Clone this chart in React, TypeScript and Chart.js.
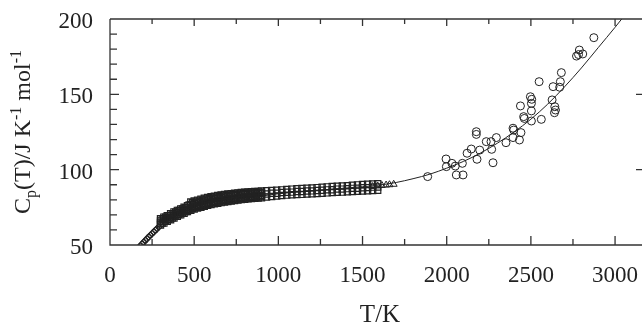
import React, { useEffect, useRef } from "react";
import { Chart, registerables } from "chart.js";

Chart.register(...registerables);

// ---- axis ticks ----
const xMajorTicks = [0, 500, 1000, 1500, 2000, 2500, 3000];
const xMinorTicks = [250, 750, 1250, 1750, 2250, 2750];
const yMajorTicks = [50, 100, 150, 200];
const yMinorTicks = [60, 70, 80, 90, 110, 120, 130, 140, 160, 170, 180, 190];

// ---- low-temperature diamonds ----
const diamondT = [180, 190, 200, 210, 220, 230, 240, 250, 260, 270, 280, 290];
const diamondY = [49.5, 50.6, 51.8, 53, 54.2, 55.3, 56.5, 57.6, 58.7, 59.8, 60.9, 62];

// ---- dense square data 300-900 K ----
const denseT = [300, 320, 340, 360, 380, 400, 420, 440, 460, 480, 500, 520, 540, 560, 580, 600, 620, 640, 660, 680, 700, 720, 740, 760, 780, 800, 820, 840, 860, 880, 900];
const denseY1 = [63.2, 64.5, 65.8, 66.8, 67.9, 69, 70, 71, 72.2, 73.1, 73.8, 74.5, 75.1, 75.7, 76.3, 76.9, 77.3, 77.7, 78.1, 78.5, 78.9, 79.2, 79.5, 79.8, 80.1, 80.4, 80.6, 80.8, 81, 81.2, 81.4];
const denseY2 = [64.6, 65.8, 67, 68.2, 69.3, 70.3, 71.4, 72.3, 73.4, 74.9, 75.6, 76.3, 76.9, 77.5, 78.1, 78.6, 79, 79.4, 79.8, 80.2, 80.5, 80.8, 81.1, 81.4, 81.7, 81.9, 82.1, 82.3, 82.5, 82.7, 82.9];
const denseY3 = [66, 67.2, 68.3, 69.5, 70.6, 71.7, 72.7, 73.7, 74.7, 76.7, 77.4, 78, 78.6, 79.2, 79.8, 80.3, 80.7, 81.1, 81.5, 81.8, 82.1, 82.5, 82.8, 83, 83.3, 83.5, 83.7, 83.8, 84, 84.2, 84.3];
const denseY4 = [67.5, 68.5, 69.5, 70.8, 72, 73, 74, 75, 76, 78.5, 79.2, 79.8, 80.4, 81, 81.5, 82, 82.4, 82.8, 83.2, 83.5, 83.8, 84.1, 84.4, 84.6, 84.8, 85, 85.2, 85.3, 85.5, 85.6, 85.8];

const denseT2 = [310, 330, 350, 370, 390, 410, 430, 450, 470, 490, 510, 530, 550, 570, 590, 610, 630, 650, 670, 690, 710, 730, 750, 770, 790, 810, 830, 850, 870, 890];
const denseY5 = [64.5, 65.8, 67, 68, 69.1, 70.2, 71.2, 72.2, 73.4, 74.3, 75, 75.7, 76.3, 76.9, 77.5, 77.9, 78.4, 78.7, 79.1, 79.5, 79.8, 80.1, 80.5, 80.7, 81, 81.2, 81.5, 81.6, 81.8, 82.1];
const denseY6 = [67.3, 68.4, 69.5, 70.7, 71.8, 72.9, 73.9, 74.8, 76.5, 78, 78.6, 79.2, 79.8, 80.4, 80.9, 81.3, 81.8, 82.1, 82.5, 82.8, 83.1, 83.4, 83.7, 83.9, 84.2, 84.3, 84.5, 84.6, 84.8, 85];

// ---- square data 930-1590 K ----
const highT = [930, 960, 990, 1020, 1050, 1080, 1110, 1140, 1170, 1200, 1230, 1260, 1290, 1320, 1350, 1380, 1410, 1440, 1470, 1500, 1530, 1560, 1590];
const highY1 = [81.8, 82.2, 82.5, 82.9, 83.1, 83.3, 83.5, 83.6, 83.8, 84, 84.2, 84.4, 84.6, 84.8, 85, 85.1, 85.3, 85.5, 85.6, 85.8, 86, 86.1, 86.3];
const highY2 = [83.9, 84.3, 84.4, 84.8, 85, 85.1, 85.5, 85.5, 85.8, 85.9, 86.2, 86.3, 86.6, 86.7, 87.1, 87.1, 87.4, 87.6, 87.7, 88, 88.1, 88.4, 88.5];
const highY3 = [86, 86.2, 86.4, 86.6, 86.9, 87.1, 87.3, 87.5, 87.7, 87.9, 88.1, 88.4, 88.6, 88.8, 89, 89.2, 89.4, 89.7, 89.9, 90.1, 90.3, 90.5, 90.7];

// ---- triangles ----
const triT = [1560, 1590, 1615, 1640, 1660, 1685];
const triY = [88.8, 89.2, 89.5, 89.8, 90, 90.3];

// ---- high-temperature circles ----
const circT = [1887, 1996, 1998, 2031, 2051, 2057, 2097, 2093, 2121, 2146, 2176, 2176, 2180, 2196, 2235, 2263, 2267, 2275, 2295, 2352, 2394, 2398, 2394, 2432, 2441, 2438, 2457, 2461, 2497, 2505, 2503, 2503, 2503, 2549, 2562, 2626, 2632, 2642, 2646, 2640, 2671, 2675, 2681, 2771, 2783, 2788, 2808, 2874];
const circY = [95.4, 107.1, 102, 104.2, 102.4, 96.5, 96.5, 104.2, 110.9, 113.7, 125.2, 123.4, 106.9, 113, 118.6, 118.6, 113.5, 104.6, 121.3, 117.9, 127.5, 126.3, 121.3, 119.7, 124.6, 142.3, 135.2, 134, 148.4, 146.7, 144, 139, 132.3, 158.4, 133.4, 146.3, 155.1, 141.8, 139.6, 137.8, 154.7, 158.4, 164.4, 175.4, 176.4, 179.4, 176.8, 187.6];

// ---- fitted curve ----
const fitT = [200, 300, 400, 500, 600, 700, 800, 900, 1000, 1200, 1400, 1500, 1600, 1700, 1800, 1900, 2000, 2100, 2200, 2300, 2400, 2500, 2600, 2700, 2800, 2900, 3000, 3100];
const fitY = [50.5, 61, 68, 73, 76.5, 79, 81, 82.5, 84, 86, 87.8, 88.7, 89.8, 91.5, 94, 97, 101, 105.5, 111, 117.5, 125, 133.5, 143.5, 155, 167.5, 181, 194.5, 208.5];

const pts = (xs: number[], ys: number[]) => xs.map((x, i) => ({ x, y: ys[i] }));

const INK = "#222";
const SERIF = "'Liberation Serif', 'Times New Roman', serif";

const framePlugin = {
  id: "frame",
  afterDraw(chart: any) {
    const { ctx, chartArea: a, scales } = chart;
    const xs = scales.x;
    const ys = scales.y;
    ctx.save();
    ctx.strokeStyle = "#333";
    ctx.lineWidth = 1.3;
    ctx.beginPath();
    ctx.moveTo(a.left, a.top);
    ctx.lineTo(a.right, a.top);
    ctx.moveTo(a.left, a.top);
    ctx.lineTo(a.left, a.bottom);
    ctx.lineTo(a.right, a.bottom);
    xMajorTicks.forEach((v) => {
      const px = xs.getPixelForValue(v);
      ctx.moveTo(px, a.bottom);
      ctx.lineTo(px, a.bottom - 9);
      ctx.moveTo(px, a.top);
      ctx.lineTo(px, a.top + 7);
    });
    xMinorTicks.forEach((v) => {
      const px = xs.getPixelForValue(v);
      ctx.moveTo(px, a.bottom);
      ctx.lineTo(px, a.bottom - 6);
      ctx.moveTo(px, a.top);
      ctx.lineTo(px, a.top + 5);
    });
    yMajorTicks.forEach((v) => {
      const py = ys.getPixelForValue(v);
      ctx.moveTo(a.left, py);
      ctx.lineTo(a.left + 9, py);
      ctx.moveTo(a.right, py);
      ctx.lineTo(a.right - 6, py);
    });
    yMinorTicks.forEach((v) => {
      const py = ys.getPixelForValue(v);
      ctx.moveTo(a.left, py);
      ctx.lineTo(a.left + 7, py);
    });
    ctx.stroke();

    // x title
    ctx.fillStyle = INK;
    ctx.font = `25px ${SERIF}`;
    ctx.textAlign = "center";
    ctx.textBaseline = "alphabetic";
    ctx.fillText("T/K", 380, 322);

    // y title with subscript / superscripts
    const segs = [
      { t: "C", k: "n" },
      { t: "p", k: "sub" },
      { t: "(T)/J K", k: "n" },
      { t: "-1", k: "sup" },
      { t: " mol", k: "n" },
      { t: "-1", k: "sup" },
    ];
    const mainF = `24px ${SERIF}`;
    const smallF = `16px ${SERIF}`;
    let total = 0;
    segs.forEach((s) => {
      ctx.font = s.k === "n" ? mainF : smallF;
      total += ctx.measureText(s.t).width;
    });
    ctx.translate(30, (a.top + a.bottom) / 2);
    ctx.rotate(-Math.PI / 2);
    ctx.textAlign = "left";
    let cx = -total / 2;
    segs.forEach((s) => {
      ctx.font = s.k === "n" ? mainF : smallF;
      const dy = s.k === "sub" ? 6 : s.k === "sup" ? -9 : 0;
      ctx.fillText(s.t, cx, dy);
      cx += ctx.measureText(s.t).width;
    });
    ctx.restore();
  },
};

export default function App() {
  const ref = useRef<HTMLCanvasElement | null>(null);
  useEffect(() => {
    if (!ref.current) return;
    const sq = {
      type: "scatter" as const,
      pointStyle: "rect",
      pointRadius: 4.4,
      pointBorderWidth: 1.2,
      pointBorderColor: INK,
      pointBackgroundColor: "rgba(0,0,0,0)",
      showLine: false,
    };
    const chart = new Chart(ref.current, {
      type: "scatter",
      data: {
        datasets: [
          {
            type: "line",
            data: pts(fitT, fitY),
            borderColor: INK,
            borderWidth: 1,
            pointRadius: 0,
            cubicInterpolationMode: "monotone",
            fill: false,
          } as any,
          {
            ...sq,
            data: pts(diamondT, diamondY),
            pointStyle: "rectRot",
            pointRadius: 3.2,
          },
          { ...sq, data: pts(denseT, denseY1) },
          { ...sq, data: pts(denseT, denseY2) },
          { ...sq, data: pts(denseT, denseY3) },
          { ...sq, data: pts(denseT, denseY4) },
          { ...sq, data: pts(denseT2, denseY5) },
          { ...sq, data: pts(denseT2, denseY6) },
          { ...sq, data: pts(highT, highY1) },
          { ...sq, data: pts(highT, highY2) },
          { ...sq, data: pts(highT, highY3) },
          {
            ...sq,
            data: pts(triT, triY),
            pointStyle: "triangle",
            pointRadius: 4,
            pointBorderWidth: 1,
          },
          {
            ...sq,
            data: pts(circT, circY),
            pointStyle: "circle",
            pointRadius: 4,
            pointBorderWidth: 1,
          },
        ] as any,
      },
      options: {
        animation: false,
        responsive: false,
        devicePixelRatio: 1,
        layout: { autoPadding: false, padding: { top: 19, right: 0, left: 0, bottom: 0 } },
        plugins: { legend: { display: false }, tooltip: { enabled: false } },
        scales: {
          x: {
            type: "linear",
            min: 0,
            max: 3160,
            grid: { display: false, drawTicks: false },
            border: { display: false },
            afterBuildTicks: (s: any) => {
              s.ticks = xMajorTicks.map((v) => ({ value: v }));
            },
            afterFit: (s: any) => {
              s.height = 79;
              s.paddingLeft = 0;
              s.paddingRight = 0;
            },
            ticks: {
              color: INK,
              font: { family: SERIF, size: 23 },
              padding: 17,
              maxRotation: 0,
              autoSkip: false,
              callback: (v: any) => String(v),
            },
          },
          y: {
            type: "linear",
            min: 50,
            max: 200,
            grid: { display: false, drawTicks: false },
            border: { display: false },
            afterBuildTicks: (s: any) => {
              s.ticks = yMajorTicks.map((v) => ({ value: v }));
            },
            afterFit: (s: any) => {
              s.width = 110;
              s.paddingTop = 0;
              s.paddingBottom = 0;
            },
            ticks: {
              color: INK,
              font: { family: SERIF, size: 23 },
              padding: 17,
              labelOffset: 3,
              autoSkip: false,
              callback: (v: any) => String(v),
            },
          },
        },
      } as any,
      plugins: [framePlugin],
    });
    return () => chart.destroy();
  }, []);
  return (
    <canvas
      ref={ref}
      width={642}
      height={324}
      style={{ position: "fixed", left: 0, top: 0, width: 642, height: 324, display: "block", background: "#fff" }}
    />
  );
}
